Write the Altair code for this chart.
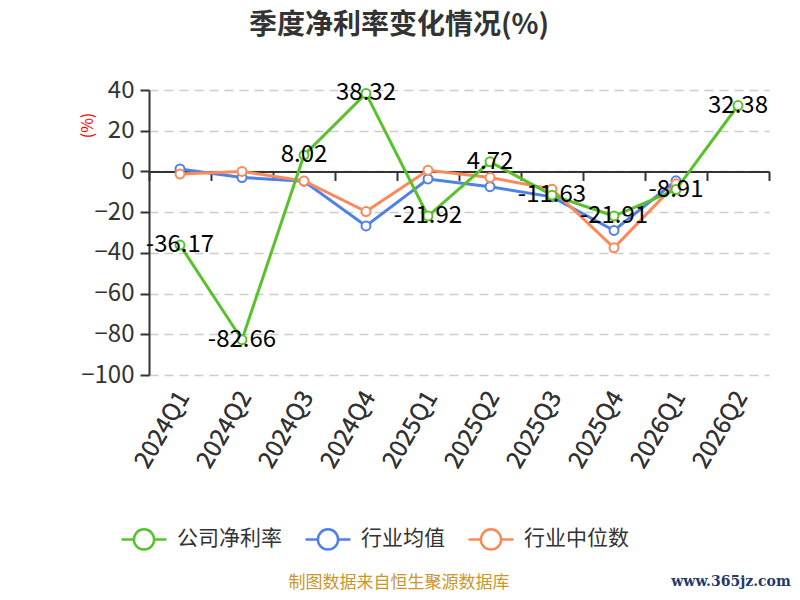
import altair as alt
import pandas as pd

quarters = ["2024Q1", "2024Q2", "2024Q3", "2024Q4", "2025Q1",
            "2025Q2", "2025Q3", "2025Q4", "2026Q1", "2026Q2"]
company = [-36.17, -82.66, 8.02, 38.32, -21.92, 4.72, -11.63, -21.91, -8.91, 32.38]
ind_mean = [1.2, -3.0, -4.8, -26.8, -3.7, -7.5, -12.5, -29.0, -4.6]
ind_median = [-1.3, 0.0, -4.7, -19.7, 0.6, -3.0, -8.7, -37.5, -6.0]

series_names = ["公司净利率", "行业均值", "行业中位数"]
series_colors = ["#58c22a", "#4f81e6", "#fa8a5a"]

rows = []
for name, vals in zip(series_names, [company, ind_mean, ind_median]):
    for q, v in zip(quarters, vals):
        rows.append({"quarter": q, "series": name, "value": v,
                     "label": f"{v:.2f}"})
df = pd.DataFrame(rows)

FONT = "Noto Sans CJK SC"

xscale = alt.Scale(type="band", domain=quarters, paddingInner=0, paddingOuter=0)
yscale = alt.Scale(domain=[-100, 40], nice=False)
cscale = alt.Scale(domain=series_names, range=series_colors)

legend = alt.Legend(
    title=None, orient="none", legendX=-29, legendY=425, direction="horizontal",
    symbolType="M-1,0L-0.45,0M0.45,0L1,0M-0.45,0A0.45,0.45,0,1,1,0.45,0A0.45,0.45,0,1,1,-0.45,0",
    symbolSize=2025, symbolStrokeWidth=2.5, symbolFillColor="white",
    labelFontSize=21, labelColor="#333333", labelFont=FONT,
    labelOffset=9, columnPadding=18, symbolOffset=0,
)

y_axis = alt.Axis(
    values=list(range(-100, 41, 20)), title="(%)", titleColor="red",
    titleFontSize=16, titleFont=FONT, titleFontWeight="normal",
    titleAngle=270, titleX=-62, titleY=35, titleAlign="center", titleBaseline="middle",
    labelFontSize=24, labelColor="#333333", labelFont=FONT, labelPadding=6,
    domainColor="#333333", domainWidth=2, tickColor="#333333", tickSize=9, tickWidth=2,
    grid=True, gridColor="#cccccc", gridDash=[9, 6], gridWidth=1.5,
)

x_axis_labels = alt.Axis(
    title=None, orient="bottom", domain=False, ticks=False, grid=False,
    labelAngle=300, labelAlign="right", labelBaseline="middle",
    labelFontSize=24, labelColor="#333333", labelFont=FONT, labelPadding=18,
    labelOffset=4,
)

zero_offset = -(285 - 285 * 40 / 140)
x_axis_zero = alt.Axis(
    title=None, orient="bottom", labels=False, grid=False, offset=zero_offset,
    domainColor="#333333", domainWidth=2, tickColor="#333333", tickSize=9,
    tickWidth=2, tickBand="extent",
)

base = alt.Chart(df)

yenc = alt.Y("value:Q", scale=yscale, axis=y_axis)

zero_layer = base.mark_point(opacity=0).encode(
    x=alt.X("quarter:N", scale=xscale, axis=x_axis_zero, sort=quarters),
    y=yenc,
)

layers = [zero_layer]
first = True
for name in ["行业均值", "行业中位数", "公司净利率"]:
    sub = base.transform_filter(alt.datum.series == name)
    xenc = alt.X("quarter:N", scale=xscale, sort=quarters,
                 axis=x_axis_labels if first else None, bandPosition=0.5)
    first = False
    line = sub.mark_line(strokeWidth=3).encode(
        x=xenc, y=yenc,
        color=alt.Color("series:N", scale=cscale, legend=legend),
    )
    pts = sub.mark_point(filled=False, fill="white", size=80, strokeWidth=2,
                         opacity=1).encode(
        x=xenc, y=yenc,
        color=alt.Color("series:N", scale=cscale, legend=legend),
    )
    layers += [line, pts]

labels = base.transform_filter(alt.datum.series == "公司净利率").mark_text(
    fontSize=24, font=FONT, color="#000000", align="center", baseline="middle"
).encode(
    x=alt.X("quarter:N", scale=xscale, sort=quarters, axis=None, bandPosition=0.5),
    y=yenc,
    text="label:N",
)
layers.append(labels)

title_df = pd.DataFrame({"t": ["季度净利率变化情况(%)"]})
title = alt.Chart(title_df).mark_text(
    fontSize=28, font=FONT, fontWeight="bold", color="#333333",
    align="center", baseline="middle"
).encode(x=alt.value(250), y=alt.value(-64), text="t:N")

footer_df = pd.DataFrame({"t": ["制图数据来自恒生聚源数据库"]})
footer = alt.Chart(footer_df).mark_text(
    fontSize=17, font=FONT, color="#c9962c", align="center", baseline="middle"
).encode(x=alt.value(250), y=alt.value(493), text="t:N")

wm_df = pd.DataFrame({"t": ["www.365jz.com"]})
watermark = alt.Chart(wm_df).mark_text(
    fontSize=14, font="DejaVu Serif", fontWeight="bold", color="#1f3a6e",
    align="center", baseline="middle"
).encode(x=alt.value(582), y=alt.value(492), text="t:N")

layers += [title, footer, watermark]

chart = alt.layer(*layers).resolve_axis(x="independent").properties(
    width=620, height=285,
    autosize=alt.AutoSizeParams(type="none"),
    padding={"left": 141, "top": 82, "right": 23, "bottom": 217},
).configure_view(stroke=None)

chart.save("out.html", embed_options={"renderer": "svg", "actions": False})
